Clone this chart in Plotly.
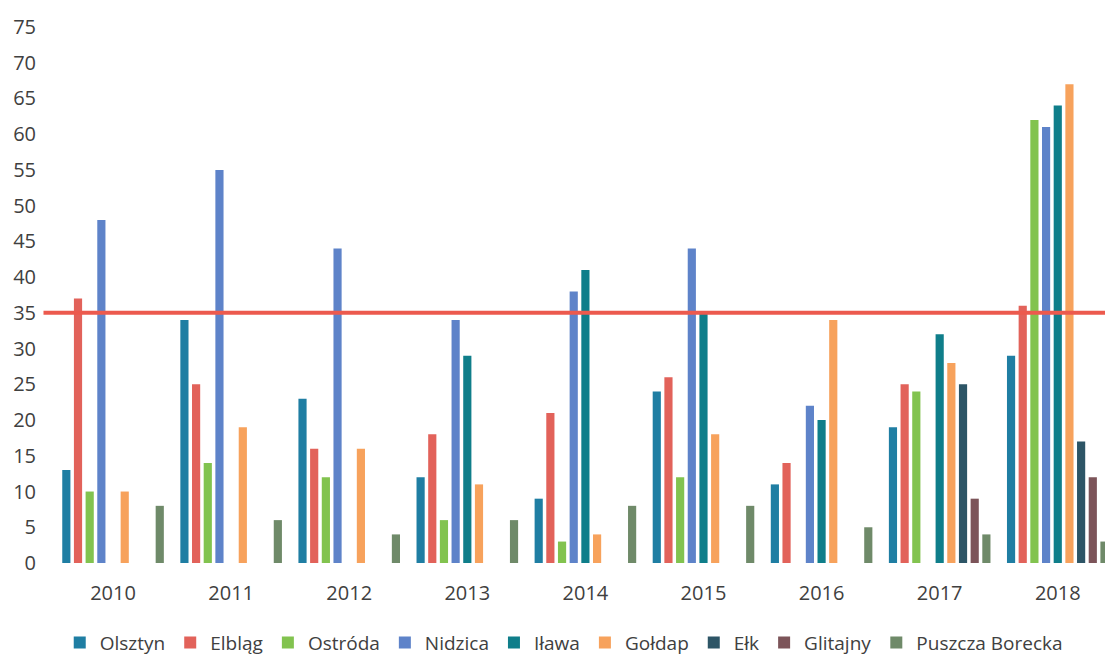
import plotly.graph_objects as go

years = ["2010", "2011", "2012", "2013", "2014", "2015", "2016", "2017", "2018"]

olsztyn = [13, 34, 23, 12, 9, 24, 11, 19, 29]
elblag = [37, 25, 16, 18, 21, 26, 14, 25, 36]
ostroda = [10, 14, 12, 6, 3, 12, 0, 24, 62]
nidzica = [48, 55, 44, 34, 38, 44, 22, 0, 61]
ilawa = [0, 0, 0, 29, 41, 35, 20, 32, 64]
goldap = [10, 19, 16, 11, 4, 18, 34, 28, 67]
elk = [0, 0, 0, 0, 0, 0, 0, 25, 17]
glitajny = [0, 0, 0, 0, 0, 0, 0, 9, 12]
puszcza = [8, 6, 4, 6, 8, 8, 5, 4, 3]

threshold = 35

series = [
    ("Olsztyn", olsztyn, "#1f7ea3"),
    ("Elbląg", elblag, "#e2625a"),
    ("Ostróda", ostroda, "#82c34f"),
    ("Nidzica", nidzica, "#5e83c9"),
    ("Iława", ilawa, "#0f7e8a"),
    ("Gołdap", goldap, "#f7a25c"),
    ("Ełk", elk, "#2d5566"),
    ("Glitajny", glitajny, "#7c5459"),
    ("Puszcza Borecka", puszcza, "#6f8a69"),
]

fig = go.Figure()
for name, vals, color in series:
    fig.add_trace(go.Bar(x=years, y=vals, name=name, marker_color=color,
                         marker_line_width=0))

fig.add_shape(type="line", xref="paper", yref="y", x0=-0.01, x1=1, y0=threshold, y1=threshold,
              line=dict(color="#ec5a4e", width=4), layer="above")

fig.update_layout(
    width=1105, height=656,
    barmode="group", bargap=0.11, bargroupgap=0.3,
    plot_bgcolor="white", paper_bgcolor="white",
    margin=dict(l=54, r=0, t=27, b=93, autoexpand=False),
    font=dict(family="Open Sans, sans-serif", size=20, color="#404040"),
    xaxis=dict(range=[-0.5, 8.4], showgrid=False, showline=False, ticks="",
               tickfont=dict(size=20), ticklabelstandoff=16),
    yaxis=dict(range=[0, 75], dtick=5, showgrid=False, zeroline=False, showline=False,
               ticks="", tickfont=dict(size=20), ticklabelstandoff=17),
    legend=dict(orientation="h", x=0.485, xanchor="center", y=-0.113, yanchor="top",
                font=dict(size=19), itemwidth=30, tracegroupgap=0),
    showlegend=True,
)

fig.write_html("out.html")
